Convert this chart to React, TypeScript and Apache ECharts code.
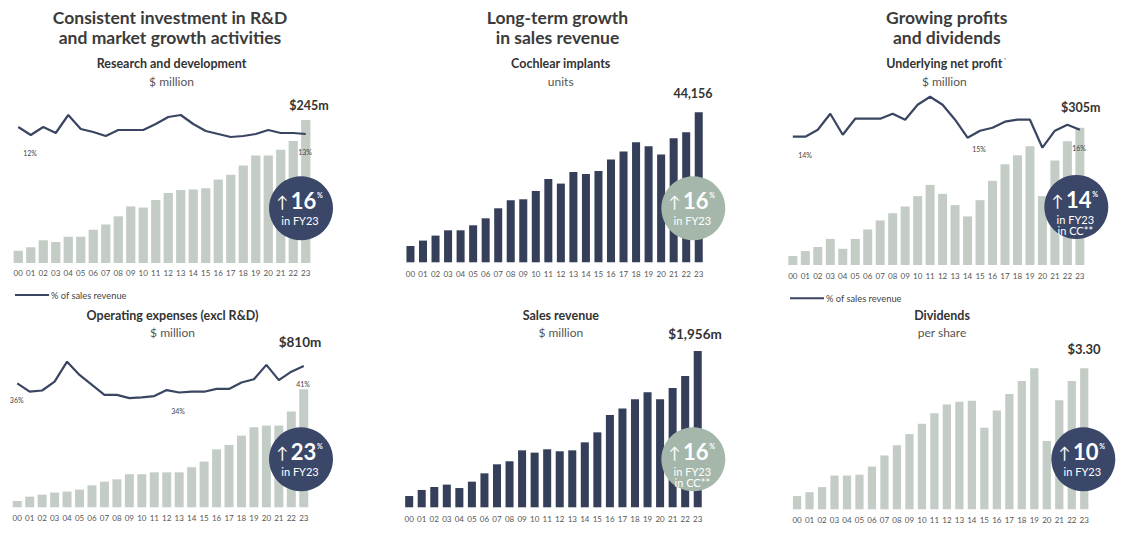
import React, { useEffect, useRef } from "react";
import * as echarts from "echarts";

const years = ["00","01","02","03","04","05","06","07","08","09","10","11","12","13","14","15","16","17","18","19","20","21","22","23"];

const rdSpend = [21, 27, 39, 36, 45, 45, 57, 66, 80, 97, 95, 108, 120, 125, 126, 128, 143, 151, 167, 184, 184, 194, 209, 245];
const rdPctSales = [12.3, 11.5, 12.3, 11.7, 13.5, 12.1, 11.8, 11.4, 12.0, 12.0, 12.0, 12.6, 13.3, 13.5, 12.6, 11.9, 11.6, 11.3, 11.4, 11.6, 12.0, 11.7, 11.7, 11.6];

const opexSpend = [43, 73, 87, 101, 108, 121, 151, 176, 192, 227, 227, 240, 240, 240, 275, 314, 398, 428, 492, 549, 561, 561, 657, 810];
const opexPctSales = [36.0, 33.9, 34.2, 36.4, 41.4, 38.1, 35.6, 33.1, 33.1, 32.3, 32.5, 32.8, 34.3, 33.7, 33.9, 33.9, 34.6, 34.6, 36.2, 37.0, 40.6, 36.8, 38.9, 40.3];

const implantUnits = [4800, 6390, 7860, 9420, 9420, 10890, 12950, 15900, 18250, 18550, 21000, 24520, 23170, 26580, 26000, 26880, 30230, 32590, 35330, 34150, 31710, 36510, 38270, 44156];
const salesRevenue = [141, 217, 254, 284, 241, 321, 425, 538, 576, 713, 684, 726, 701, 713, 813, 938, 1155, 1235, 1351, 1439, 1351, 1493, 1642, 1956];

const netProfit = [20, 31, 40, 58, 36, 58, 79, 99, 115, 130, 153, 178, 158, 133, 108, 144, 187, 224, 244, 264, 153, 232, 275, 305];
const profitPctSales = [14.0, 14.0, 14.7, 16.3, 14.2, 15.8, 15.8, 15.8, 16.3, 15.7, 17.2, 18.0, 17.2, 15.7, 13.9, 14.6, 14.9, 15.5, 15.7, 15.7, 12.9, 14.6, 15.2, 14.7];

const dividends = [0.31, 0.40, 0.52, 0.79, 0.79, 0.81, 1.00, 1.26, 1.50, 1.76, 2.00, 2.25, 2.45, 2.52, 2.54, 1.91, 2.31, 2.70, 3.00, 3.30, 1.60, 2.55, 3.00, 3.30];

const sectionTitles = [
  ["Consistent investment in R&D", "and market growth activities"],
  ["Long-term growth", "in sales revenue"],
  ["Growing profits", "and dividends"],
];
const chartTitles = [
  ["Research and development", "$ million"],
  ["Operating expenses (excl R&D)", "$ million"],
  ["Cochlear implants", "units"],
  ["Sales revenue", "$ million"],
  ["Underlying net profit", "$ million"],
  ["Dividends", "per share"],
];
const headlineValues = ["$245m", "$810m", "44,156", "$1,956m", "$305m", "$3.30"];
const lineLabels = ["12%", "13%", "36%", "34%", "41%", "14%", "15%", "16%"];
const growthValues = ["16", "23", "16", "16", "14", "10"];
const growthNotes = [["in FY23"], ["in FY23"], ["in FY23"], ["in FY23", "in CC**"], ["in FY23", "in CC**"], ["in FY23"]];
const legendText = "% of sales revenue";

const FONT = "Lato, 'Open Sans', sans-serif";
const LIGHT = "#c3cdc6";
const DARK = "#353f59";
const LINE = "#3a4562";
const NAVY = "#3a4769";
const SAGE = "#a4b7aa";

export default function App() {
  const ref = useRef<HTMLDivElement>(null);

  useEffect(() => {
    if (!ref.current) return;
    const chart = echarts.init(ref.current, undefined, { renderer: "svg" });

    const grids: any[] = [];
    const xAxes: any[] = [];
    const yAxes: any[] = [];
    const series: any[] = [];

    const addBars = (data: number[], left: number, top: number, width: number, height: number, color: string, gap: string, labelMargin: number) => {
      const i = grids.length;
      grids.push({ left, top, width, height });
      xAxes.push({
        type: "category", gridIndex: i, data: years,
        axisLine: { show: false }, axisTick: { show: false },
        axisLabel: { interval: 0, fontSize: 8, color: "#555", fontFamily: FONT, margin: labelMargin },
      });
      yAxes.push({ type: "value", gridIndex: i, min: 0, max: (v: any) => v.max, show: false });
      series.push({
        type: "bar", xAxisIndex: i, yAxisIndex: i, data,
        itemStyle: { color }, barCategoryGap: gap, silent: true,
      });
    };
    const addLine = (data: number[], left: number, top: number, width: number, height: number, min: number, max: number) => {
      const i = grids.length;
      grids.push({ left, top, width, height });
      xAxes.push({ type: "category", gridIndex: i, data: years, show: false });
      yAxes.push({ type: "value", gridIndex: i, min, max, show: false });
      series.push({
        type: "line", xAxisIndex: i, yAxisIndex: i, data, symbol: "none", z: 5,
        lineStyle: { color: LINE, width: 2.2 }, clip: false, silent: true,
      });
    };

    addBars(rdSpend, 12, 120, 300, 143, LIGHT, "26%", 6);
    addLine(rdPctSales, 12, 105, 300, 40, 10.5, 14.5);
    addBars(opexSpend, 11, 389.3, 299, 118, LIGHT, "28%", 7);
    addLine(opexPctSales, 11, 351.3, 299, 56, 30, 44);
    addBars(implantUnits, 404.2, 112.3, 300.8, 150, DARK, "36%", 8);
    addBars(salesRevenue, 402.9, 351, 301.1, 156.3, DARK, "36%", 8);
    addBars(netProfit, 786.6, 127.7, 299.5, 137.3, LIGHT, "28%", 7);
    addLine(profitPctSales, 786.6, 86.7, 299.5, 70, 12, 19);
    addBars(dividends, 790.8, 368.3, 299.7, 141, LIGHT, "34%", 6.5);

    const g: any[] = [];
    const txt = (text: string, x: number, y: number, size: number, weight: string, fill: string, align = "center") => {
      g.push({
        type: "text", x, y, z: 120,
        style: { text, fill, font: `${weight} ${size}px ${FONT}`, align, verticalAlign: "middle", textAlign: align, textVerticalAlign: "middle" },
      });
    };

    // section titles
    const titleX = [170, 557.5, 946.8];
    sectionTitles.forEach((lines, i) => {
      txt(lines[0], titleX[i], 17, 17.5, "bold", "#3b3b3b");
      txt(lines[1], titleX[i], 37, 17.5, "bold", "#3b3b3b");
    });

    // chart titles
    const ctPos = [[171.5, 63, 81], [172.5, 315.7, 332.7], [560.7, 63, 81], [560.8, 315.7, 332.7], [944.3, 63, 81], [942, 315.7, 332.7]];
    chartTitles.forEach((t, i) => {
      const [x, y1, y2] = ctPos[i];
      txt(t[0], x, y1, 12.5, "bold", "#333");
      txt(t[1], x, y2, 12, "normal", "#555");
    });
    txt("*", 1005, 59, 6, "normal", "#333");

    // headline values
    const hvPos = [[309, 105, 12.5], [300, 342, 13.5], [693, 93, 12.5], [695, 334, 13.5], [1080.7, 107.3, 12.5], [1084, 349.3, 13]];
    headlineValues.forEach((v, i) => txt(v, hvPos[i][0], hvPos[i][1], hvPos[i][2], "bold", "#333"));

    // line labels
    const llPos = [[30, 153], [305, 152], [16.7, 400], [178, 410.7], [303, 384], [805, 155], [979, 149.3], [1079, 148.3]];
    lineLabels.forEach((l, i) => txt(l, llPos[i][0], llPos[i][1], 7, "normal", "#444"));

    // legends
    const lgPos = [[15, 295], [790, 298.3]];
    lgPos.forEach(([x, y]) => {
      g.push({ type: "line", z: 120, shape: { x1: x, y1: y, x2: x + 34, y2: y }, style: { stroke: LINE, lineWidth: 2 } });
      txt(legendText, x + 36, y, 9.3, "normal", "#444", "left");
    });

    // badges
    const bPos = [[301, 208.3, NAVY], [301, 459.3, NAVY], [693.3, 208.3, SAGE], [693.3, 459.3, SAGE], [1076.3, 207, NAVY], [1083.3, 459.3, NAVY]];
    bPos.forEach(([cx, cy, color]: any, i) => {
      const notes = growthNotes[i];
      const ny = cy - 8;
      g.push({ type: "circle", z: 110, shape: { cx, cy, r: 32 }, style: { fill: color } });
      txt(growthValues[i], cx + 2.5, ny, 22, "bold", "#fff");
      txt("↑", cx - 12.5, ny + 1, 16, "normal", "#fff", "right");
      txt("%", cx + 16, ny - 5, 7, "bold", "#fff", "left");
      notes.forEach((n, j) => txt(n, cx - 1, ny + 20 + j * 11.5, 11, "normal", "#fff"));
    });

    chart.setOption({
      animation: false,
      grid: grids,
      xAxis: xAxes,
      yAxis: yAxes,
      series,
      graphic: { elements: g },
    });
    return () => chart.dispose();
  }, []);

  return <div ref={ref} style={{ position: "absolute", left: 0, top: 0, width: 1124, height: 547, background: "#fff" }} />;
}
